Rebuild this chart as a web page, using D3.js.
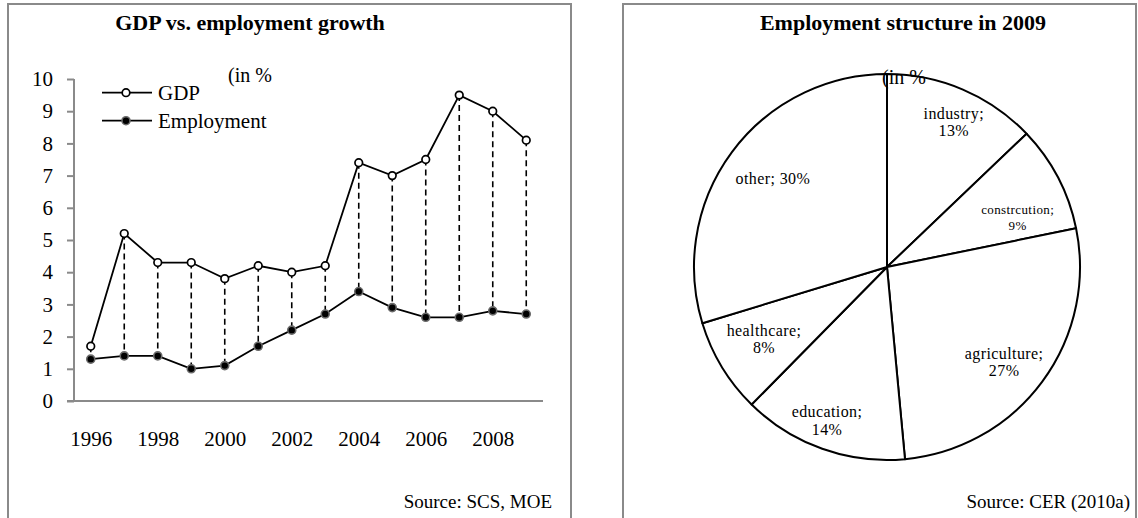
<!DOCTYPE html>
<html>
<head>
<meta charset="utf-8">
<script src="https://cdn.jsdelivr.net/npm/d3@7"></script>
<style>
  html, body { margin: 0; padding: 0; background: #fff; }
  svg { display: block; font-family: "Liberation Serif", "Times New Roman", serif; }
</style>
</head>
<body>
<svg id="chart" width="1138" height="518"></svg>
<script>
// GDP and employment growth, annual %
const years = [1996, 1997, 1998, 1999, 2000, 2001, 2002, 2003, 2004, 2005, 2006, 2007, 2008, 2009];
const gdpGrowth = [1.7, 5.2, 4.3, 4.3, 3.8, 4.2, 4.0, 4.2, 7.4, 7.0, 7.5, 9.5, 9.0, 8.1];
const employmentGrowth = [1.3, 1.4, 1.4, 1.0, 1.1, 1.7, 2.2, 2.7, 3.4, 2.9, 2.6, 2.6, 2.8, 2.7];
const yTicks = [0, 1, 2, 3, 4, 5, 6, 7, 8, 9, 10];
const xTickYears = [1996, 1998, 2000, 2002, 2004, 2006, 2008];

// Employment structure in 2009, %
const sectors = ["industry", "constrcution", "agriculture", "education", "healthcare", "other"];
const sectorShares = [13, 9, 27, 14, 8, 30];

const svg = d3.select("#chart");
const panelStroke = "#8a8a8a";

// ---------- panel frames ----------
svg.append("rect").attr("x", 8).attr("y", 4).attr("width", 563).attr("height", 560)
  .attr("fill", "none").attr("stroke", panelStroke).attr("stroke-width", 2);
svg.append("rect").attr("x", 623).attr("y", 4).attr("width", 513).attr("height", 560)
  .attr("fill", "none").attr("stroke", panelStroke).attr("stroke-width", 2);

// ---------- left: line chart ----------
const left = svg.append("g");
left.append("text").attr("x", 250).attr("y", 30).attr("text-anchor", "middle")
  .attr("font-weight", "bold").attr("font-size", 22).text("GDP vs. employment growth");

const x = d3.scalePoint().domain(years).range([74, 543]).padding(0.5);
const y = d3.scaleLinear().domain([0, 10]).range([401, 79]);

const yAxis = left.append("g").attr("transform", "translate(74,0)")
  .call(d3.axisLeft(y).tickValues(yTicks).tickSize(7).tickPadding(14).tickFormat(d3.format("d")));
yAxis.select(".domain").attr("stroke", panelStroke).attr("stroke-width", 2)
  .attr("d", `M0,${y(10)}V${y(0)}`);
yAxis.selectAll(".tick line").attr("stroke", panelStroke).attr("stroke-width", 2);
yAxis.selectAll(".tick text").attr("font-size", 21).attr("fill", "#000")
  .attr("font-family", "Liberation Serif, serif");

const xAxis = left.append("g").attr("transform", `translate(0,${y(0)})`)
  .call(d3.axisBottom(x).tickValues(xTickYears).tickSize(0).tickPadding(30));
xAxis.select(".domain").attr("stroke", panelStroke).attr("stroke-width", 2)
  .attr("d", `M67,0H543`);
xAxis.selectAll(".tick text").attr("font-size", 21).attr("fill", "#000")
  .attr("font-family", "Liberation Serif, serif");

const rows = years.map((yr, i) => ({ year: yr, gdp: gdpGrowth[i], emp: employmentGrowth[i] }));

// dashed drop lines between the two series
left.append("g").selectAll("line").data(rows).join("line")
  .attr("x1", d => x(d.year)).attr("x2", d => x(d.year))
  .attr("y1", d => y(d.gdp)).attr("y2", d => y(d.emp))
  .attr("stroke", "#000").attr("stroke-width", 1.6).attr("stroke-dasharray", "6,4");

const lineGdp = d3.line().x(d => x(d.year)).y(d => y(d.gdp));
const lineEmp = d3.line().x(d => x(d.year)).y(d => y(d.emp));
left.append("path").datum(rows).attr("d", lineGdp)
  .attr("fill", "none").attr("stroke", "#000").attr("stroke-width", 1.8);
left.append("path").datum(rows).attr("d", lineEmp)
  .attr("fill", "none").attr("stroke", "#000").attr("stroke-width", 1.8);

function gdpMarker(sel) {
  sel.attr("r", 3.8).attr("fill", "#fff").attr("stroke", "#000").attr("stroke-width", 1.7);
}
function empMarker(sel) {
  sel.attr("r", 4).attr("fill", "#000").attr("stroke", "#6a6a6a").attr("stroke-width", 1.6);
}
left.append("g").selectAll("circle").data(rows).join("circle")
  .attr("cx", d => x(d.year)).attr("cy", d => y(d.emp)).call(empMarker);
left.append("g").selectAll("circle").data(rows).join("circle")
  .attr("cx", d => x(d.year)).attr("cy", d => y(d.gdp)).call(gdpMarker);

// legend
const legendItems = [
  { label: "GDP", marker: gdpMarker, yPos: 92.7 },
  { label: "Employment", marker: empMarker, yPos: 120.7 }
];
legendItems.forEach(item => {
  const g = left.append("g");
  g.append("line").attr("x1", 102).attr("x2", 152).attr("y1", item.yPos).attr("y2", item.yPos)
    .attr("stroke", "#000").attr("stroke-width", 1.8);
  g.append("circle").attr("cx", 126).attr("cy", item.yPos).call(item.marker);
  g.append("text").attr("x", 158).attr("y", item.yPos + 7).attr("font-size", 21).text(item.label);
});
left.append("text").attr("x", 228).attr("y", 82).attr("font-size", 20).text("(in %");

left.append("text").attr("x", 552).attr("y", 508).attr("text-anchor", "end")
  .attr("font-size", 19).text("Source: SCS, MOE");

// ---------- right: pie chart ----------
const right = svg.append("g");
right.append("text").attr("x", 903).attr("y", 30).attr("text-anchor", "middle")
  .attr("font-weight", "bold").attr("font-size", 22).text("Employment structure in 2009");

const cx = 887, cy = 267, R = 193;
const pie = d3.pie().sort(null).value(d => d.value);
const slices = pie(sectors.map((s, i) => ({ name: s, value: sectorShares[i] })));
const arc = d3.arc().innerRadius(0).outerRadius(R);
const labelArc = d3.arc().innerRadius(152).outerRadius(152);
// small hand adjustments of the label anchors (px)
const labelNudge = {
  industry: [7, -5], constrcution: [-4, 20], agriculture: [-5, 5],
  education: [-9, 11], healthcare: [7, -6], other: [8, 2]
};

const pieG = right.append("g").attr("transform", `translate(${cx},${cy})`);
pieG.selectAll("path").data(slices).join("path")
  .attr("d", arc).attr("fill", "#fff").attr("stroke", "#000").attr("stroke-width", 2)
  .attr("stroke-linejoin", "round");

right.append("text").attr("x", 882).attr("y", 84).attr("font-size", 20).text("(in %");

slices.forEach(s => {
  const [cxl, cyl] = labelArc.centroid(s);
  const [nx, ny] = labelNudge[s.data.name] || [0, 0];
  const lx = cxl + nx, ly = cyl + ny;
  const small = s.data.name === "constrcution";
  const fs = small ? 13 : 16;
  const t = pieG.append("text").attr("text-anchor", "middle")
    .attr("font-size", fs).attr("letter-spacing", 0.4);
  if (s.data.name === "other") {
    t.attr("x", lx).attr("y", ly + 5).text(`${s.data.name}; ${s.data.value}%`);
  } else {
    const lh = small ? 16 : 17.5;
    t.append("tspan").attr("x", lx).attr("y", ly - lh / 2 + 5).text(`${s.data.name};`);
    t.append("tspan").attr("x", lx).attr("y", ly + lh / 2 + 5).text(`${s.data.value}%`);
  }
});

right.append("text").attr("x", 1130).attr("y", 508).attr("text-anchor", "end")
  .attr("font-size", 19).text("Source: CER (2010a)");
</script>
</body>
</html>
